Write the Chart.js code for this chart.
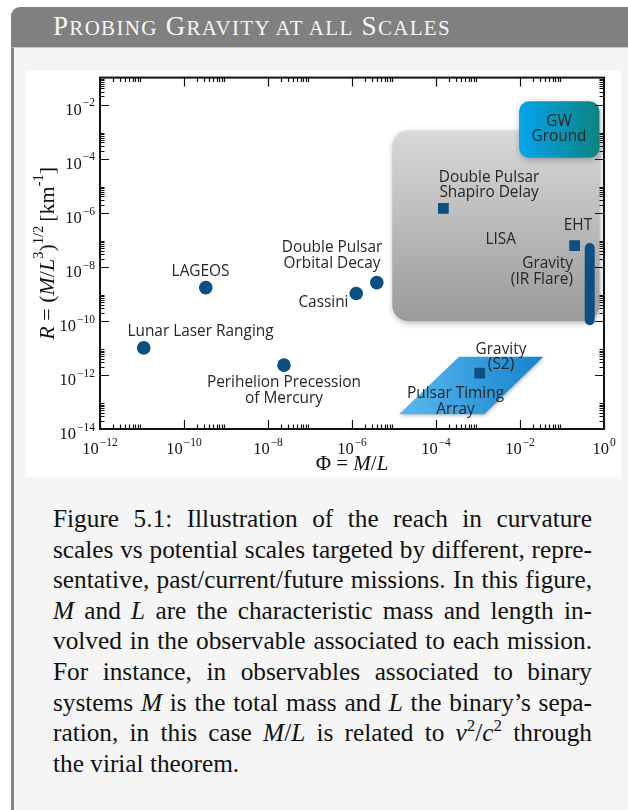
<!DOCTYPE html>
<html>
<head>
<meta charset="utf-8">
<script src="https://cdn.jsdelivr.net/npm/chart.js@4.4.1/dist/chart.umd.min.js"></script>
<style>
  html, body { margin: 0; padding: 0; background: #fff; }
  body { width: 628px; height: 810px; position: relative; overflow: hidden; font-family: "Liberation Serif", "Times New Roman", serif; }
  #head { position: absolute; left: 11px; top: 7px; width: 640px; height: 40px; background: #808080; border-top-left-radius: 9px; }
  #head span.t { position: absolute; left: 42px; top: 6px; line-height: 27px; font-size: 27px; color: #f6f6f6; white-space: nowrap; letter-spacing: 1.3px; }
  #head span.s { font-size: 21px; }
  #box { position: absolute; left: 11px; top: 47px; width: 640px; height: 800px; background: #f5f5f5; border-left: 3px solid #858585; border-top: 1px solid #c8c8c8; }
  #wrap { position: absolute; left: 26px; top: 70px; width: 595px; height: 407px; background: #fff; }
  #cap { position: absolute; left: 53px; top: 503px; width: 539px; font-size: 25.3px; line-height: 30.6px; color: #111; }
  #cap div { text-align: justify; text-align-last: justify; height: 30.6px; }
  #cap div.last { text-align: left; text-align-last: left; }
  #cap sup { font-size: 17px; line-height: 0; vertical-align: 0; position: relative; top: -10px; }
</style>
</head>
<body>
<div id="head"><span class="t">P<span class="s">ROBING</span> G<span class="s">RAVITY AT ALL</span> S<span class="s">CALES</span></span></div>
<div id="box"></div>
<div id="wrap"><canvas id="c" width="595" height="407"></canvas></div>
<div id="cap">
  <div>Figure 5.1: Illustration of the reach in curvature</div>
  <div>scales vs potential scales targeted by different, repre-</div>
  <div>sentative, past/current/future missions. In this figure,</div>
  <div><i>M</i> and <i>L</i> are the characteristic mass and length in-</div>
  <div>volved in the observable associated to each mission.</div>
  <div>For instance, in observables associated to binary</div>
  <div>systems <i>M</i> is the total mass and <i>L</i> the binary’s sepa-</div>
  <div>ration, in this case <i>M</i>/<i>L</i> is related to <i>v</i><sup>2</sup>/<i>c</i><sup>2</sup> through</div>
  <div class="last">the virial theorem.</div>
</div>
<script>
// point missions (circles), Φ = M/L and R in km^-1
const circleNames = ['Lunar Laser Ranging', 'LAGEOS', 'Perihelion Precession of Mercury', 'Cassini', 'Double Pulsar Orbital Decay'];
const circlePhi = [1.1e-11, 3.3e-10, 2.4e-8, 1.26e-6, 3.9e-6];
const circleR = [1.0e-11, 1.7e-9, 2.3e-12, 1.03e-9, 2.6e-9];

// square missions
const squareNames = ['Double Pulsar Shapiro Delay', 'EHT', 'Gravity (S2)'];
const squarePhi = [1.5e-4, 0.2, 1.1e-3];
const squareR = [1.45e-6, 6.1e-8, 1.17e-12];

// Gravity IR flare: a vertical range
const flarePhi = [0.457, 0.457];
const flareR = [5e-8, 1.05e-10];

// regions
const lisaPhi = [9.1e-6, 0.78];
const lisaR = [1e-10, 1.1e-3];
const gwPhi = [9.5e-3, 0.78];
const gwR = [1.08e-4, 1.33e-2];
const ptaPhi = [1.31e-5, 1.41e-3, 3.59e-2, 3.53e-4];
const ptaR = [3.5e-14, 3.5e-14, 4.68e-12, 4.68e-12];

// tick labels (powers of ten)
const xTickExp = [-12, -10, -8, -6, -4, -2, 0];
const yTickExp = [-14, -12, -10, -8, -6, -4, -2];

const notes = [
  { lines: ['Lunar Laser Ranging'], phi: 2.47e-10, r: 4.16e-11 },
  { lines: ['LAGEOS'], phi: 2.48e-10, r: 6.46e-9 },
  { lines: ['Perihelion Precession', 'of Mercury'], phi: 2.4e-8, r: 5.3e-13 },
  { lines: ['Cassini'], phi: 2.09e-7, r: 4.9e-10 },
  { lines: ['Double Pulsar', 'Orbital Decay'], phi: 3.34e-7, r: 4.97e-8 },
  { lines: ['Double Pulsar', 'Shapiro Delay'], phi: 1.83e-3, r: 2.08e-5 },
  { lines: ['LISA'], phi: 3.47e-3, r: 1.04e-7 },
  { lines: ['EHT'], phi: 0.24, r: 3.42e-7 },
  { lines: ['Gravity', '(IR Flare)'], phi: 0.183, r: 1.32e-8, align: 'right' },
  { lines: ['Gravity', '(S2)'], phi: 3.53e-3, r: 9e-12 },
  { lines: ['Pulsar Timing', 'Array'], phi: 2.91e-4, r: 2.09e-13 },
  { lines: ['GW', 'Ground'], phi: 0.0849, r: 2.43e-3 }
];

const markColor = '#0c4f83';
const serif = '"Liberation Serif", "Times New Roman", serif';
const sans = '"Open Sans", Lato, sans-serif';

function roundRect(ctx, x, y, w, h, r) {
  ctx.beginPath();
  ctx.moveTo(x + r, y);
  ctx.arcTo(x + w, y, x + w, y + h, r);
  ctx.arcTo(x + w, y + h, x, y + h, r);
  ctx.arcTo(x, y + h, x, y, r);
  ctx.arcTo(x, y, x + w, y, r);
  ctx.closePath();
}

const regions = {
  id: 'regions',
  beforeDatasetsDraw(chart) {
    const { ctx, scales: { x, y } } = chart;
    ctx.save();
    // LISA grey box
    let x0 = x.getPixelForValue(lisaPhi[0]), x1 = x.getPixelForValue(lisaPhi[1]);
    let y0 = y.getPixelForValue(lisaR[1]), y1 = y.getPixelForValue(lisaR[0]);
    let g = ctx.createLinearGradient(0, y0, 0, y1);
    g.addColorStop(0, '#d9d9d9');
    g.addColorStop(1, '#9a9a9a');
    ctx.shadowColor = 'rgba(0,0,0,0.3)';
    ctx.shadowBlur = 6;
    ctx.shadowOffsetX = 1;
    ctx.shadowOffsetY = 2;
    roundRect(ctx, x0, y0, x1 - x0, y1 - y0, 16);
    ctx.fillStyle = g;
    ctx.fill();

    // GW ground box
    x0 = x.getPixelForValue(gwPhi[0]); x1 = x.getPixelForValue(gwPhi[1]);
    y0 = y.getPixelForValue(gwR[1]); y1 = y.getPixelForValue(gwR[0]);
    g = ctx.createLinearGradient(x0, 0, x1, 0);
    g.addColorStop(0, '#05a4ec');
    g.addColorStop(1, '#0b8382');
    roundRect(ctx, x0, y0, x1 - x0, y1 - y0, 10);
    ctx.fillStyle = g;
    ctx.fill();

    // PTA parallelogram
    ctx.shadowBlur = 3;
    ctx.shadowColor = 'rgba(0,0,0,0.2)';
    const px = ptaPhi.map(v => x.getPixelForValue(v));
    const py = ptaR.map(v => y.getPixelForValue(v));
    g = ctx.createLinearGradient(Math.min(...px), 0, Math.max(...px), 0);
    g.addColorStop(0, '#5ab9ef');
    g.addColorStop(1, '#1782cb');
    ctx.beginPath();
    px.forEach((v, i) => i ? ctx.lineTo(v, py[i]) : ctx.moveTo(v, py[i]));
    ctx.closePath();
    ctx.fillStyle = g;
    ctx.fill();
    ctx.restore();
  }
};

function drawRuns(ctx, runs, size, x, y, align, supSize) {
  supSize = supSize || Math.round(size * 0.62);
  const fontOf = r => (r.it ? 'italic ' : '') + (r.sup ? supSize : size) + 'px ' + serif;
  let w = 0;
  runs.forEach(r => { ctx.font = fontOf(r); w += ctx.measureText(r.t).width + (r.gap || 0); });
  let cx = align === 'center' ? x - w / 2 : align === 'right' ? x - w : x;
  ctx.textAlign = 'left';
  ctx.textBaseline = 'alphabetic';
  runs.forEach(r => {
    ctx.font = fontOf(r);
    ctx.fillText(r.t, cx, r.sup ? y - size * 0.5 : y);
    cx += ctx.measureText(r.t).width + (r.gap || 0);
  });
}

const deco = {
  id: 'deco',
  afterDatasetsDraw(chart) {
    const { ctx, chartArea: a, scales: { x, y } } = chart;
    ctx.save();

    // annotations
    ctx.fillStyle = '#262626';
    ctx.font = '15.4px ' + sans;
    ctx.textBaseline = 'middle';
    notes.forEach(n => {
      const px = x.getPixelForValue(n.phi), py = y.getPixelForValue(n.r);
      ctx.textAlign = n.align || 'center';
      n.lines.forEach((t, i) => ctx.fillText(t, px, py + i * 15.8));
    });

    // ticks, mirrored on all four sides, pointing inward
    ctx.strokeStyle = '#111';
    ctx.lineWidth = 1.2;
    ctx.beginPath();
    const xs = [], ys = [];
    xTickExp.forEach(e => {
      xs.push([Math.pow(10, e), 9]);
      if (e < 0) for (let k = 2; k <= 9; k++) xs.push([k * Math.pow(10, e), 4.5]);
    });
    yTickExp.forEach(e => {
      ys.push([Math.pow(10, e), 9]);
      for (let k = 2; k <= 9; k++) ys.push([k * Math.pow(10, e), 4.5]);
    });
    xs.forEach(([v, len]) => {
      const p = Math.round(x.getPixelForValue(v)) + 0.5;
      ctx.moveTo(p, a.bottom); ctx.lineTo(p, a.bottom - len);
      ctx.moveTo(p, a.top); ctx.lineTo(p, a.top + len);
    });
    ys.forEach(([v, len]) => {
      const p = Math.round(y.getPixelForValue(v)) + 0.5;
      ctx.moveTo(a.left, p); ctx.lineTo(a.left + len, p);
      ctx.moveTo(a.right, p); ctx.lineTo(a.right - len, p);
    });
    ctx.stroke();

    // frame
    ctx.lineWidth = 2;
    ctx.strokeRect(a.left, a.top, a.right - a.left, a.bottom - a.top);

    // tick labels
    ctx.fillStyle = '#111';
    xTickExp.forEach(e => {
      drawRuns(ctx, [{ t: '10', gap: 1 }, { t: String(e).replace('-', '\u2212'), sup: true }], 16.5, x.getPixelForValue(Math.pow(10, e)), a.bottom + 25, 'center', 11.5);
    });
    yTickExp.forEach(e => {
      drawRuns(ctx, [{ t: '10', gap: 1 }, { t: String(e).replace('-', '\u2212'), sup: true }], 16.5, a.left - 5, y.getPixelForValue(Math.pow(10, e)) + 10, 'right', 11.5);
    });

    // axis titles
    drawRuns(ctx, [{ t: 'Φ = ' }, { t: 'M', it: true }, { t: '/' }, { t: 'L', it: true }], 21, (a.left + a.right) / 2, a.bottom + 41, 'center');
    ctx.save();
    ctx.translate(a.left - 46, (a.top + a.bottom) / 2);
    ctx.rotate(-Math.PI / 2);
    drawRuns(ctx, [
      { t: 'R', it: true }, { t: ' = (' }, { t: 'M', it: true }, { t: '/' }, { t: 'L', it: true },
      { t: '3', sup: true }, { t: ')' }, { t: '1/2', sup: true, gap: 4 }, { t: '[km' }, { t: '-1', sup: true }, { t: ']' }
    ], 22, 0, 0, 'center', 14.5);
    ctx.restore();

    ctx.restore();
  }
};

new Chart(document.getElementById('c'), {
  type: 'scatter',
  data: {
    datasets: [
      {
        label: 'circles',
        data: circlePhi.map((v, i) => ({ x: v, y: circleR[i] })),
        pointStyle: 'circle',
        pointRadius: 6.8,
        backgroundColor: markColor,
        borderWidth: 0
      },
      {
        label: 'squares',
        data: squarePhi.map((v, i) => ({ x: v, y: squareR[i] })),
        pointStyle: 'rect',
        pointRadius: 7.6,
        backgroundColor: markColor,
        borderWidth: 0
      },
      {
        type: 'line',
        label: 'Gravity (IR Flare)',
        data: flarePhi.map((v, i) => ({ x: v, y: flareR[i] })),
        borderColor: markColor,
        borderWidth: 10,
        borderCapStyle: 'round',
        pointRadius: 0
      }
    ]
  },
  options: {
    responsive: false,
    animation: false,
    events: [],
    layout: { padding: { left: 74, right: 17, top: 7, bottom: 48 } },
    plugins: { legend: { display: false }, tooltip: { enabled: false } },
    scales: {
      x: { type: 'logarithmic', min: 1e-12, max: 1, display: false },
      y: { type: 'logarithmic', min: 1e-14, max: 1e-1, display: false }
    }
  },
  plugins: [regions, deco]
});
</script>
</body>
</html>
